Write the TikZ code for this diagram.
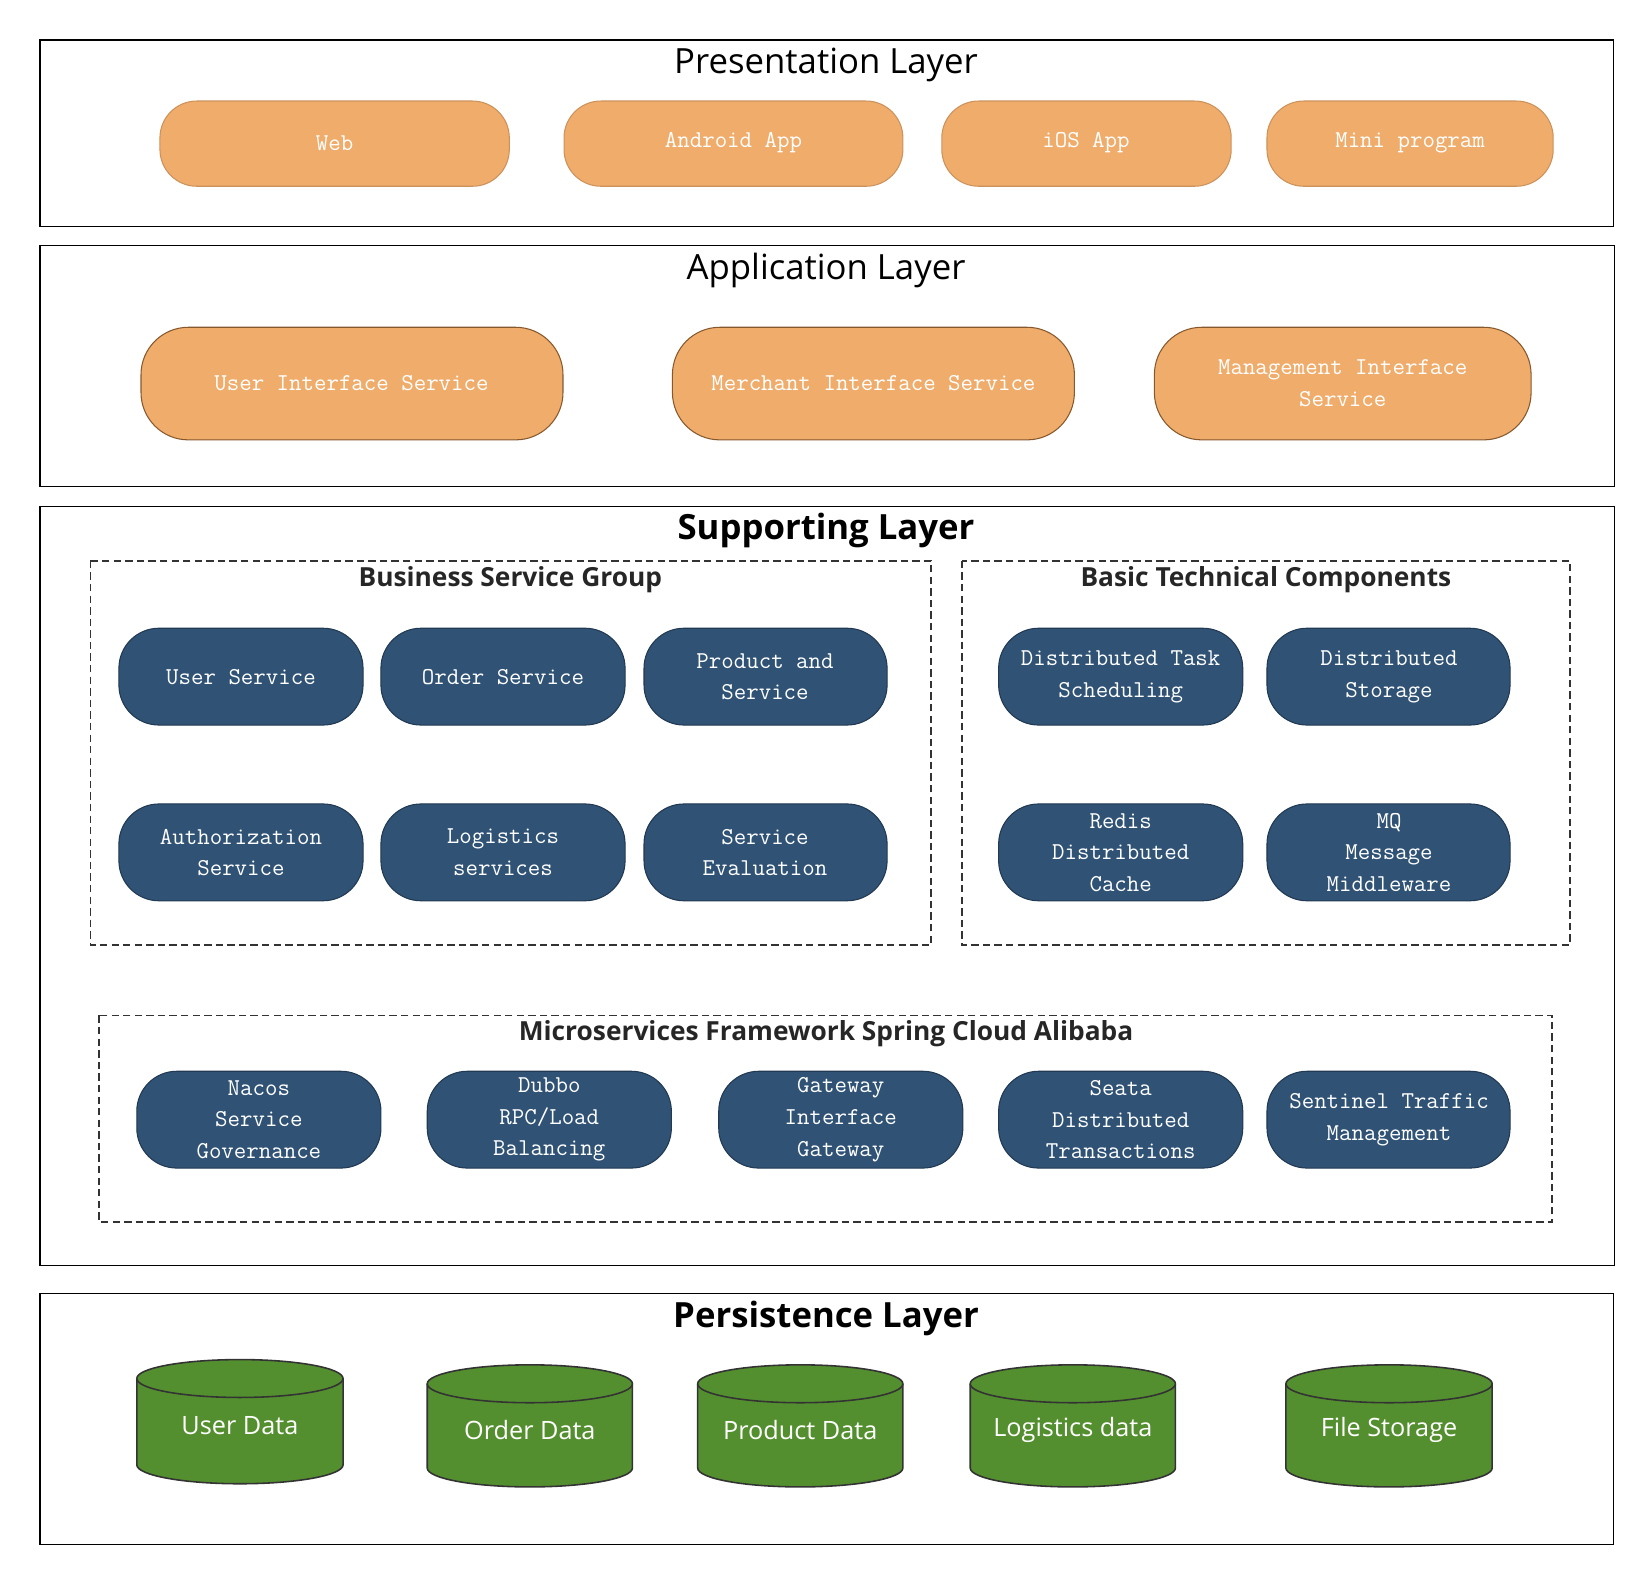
\documentclass[tikz,border=0pt]{standalone}
\usepackage{fontspec}
\setmainfont{Open Sans}
\begin{document}
\begin{tikzpicture}[x=1pt,y=-1pt,
 layer/.style={draw=black,line width=1pt},
 grp/.style={draw=black!80,line width=1.6pt,dash pattern=on 7pt off 4pt},
 ltitle/.style={font=\fontsize{33}{40}\selectfont},
 btitle/.style={font=\bfseries\fontsize{33}{40}\selectfont},
 gtitle/.style={font=\bfseries\fontsize{25}{30}\selectfont,text=black!85},
 ptext/.style={text=white,font=\ttfamily\fontsize{23}{30}\selectfont,align=center},
 ctext/.style={text=white,font=\fontsize{24}{30}\selectfont}]
\definecolor{po}{HTML}{F0AC6B}
\definecolor{pb}{HTML}{2F5275}
\definecolor{pg}{HTML}{548F2F}
\tikzset{orange/.style={fill=po,draw=po!85!black,rounded corners=35pt,line width=1pt},
 app/.style={fill=po,draw=brown!70!black,rounded corners=45pt,line width=1pt},
 blue/.style={fill=pb,draw=pb!70!black,rounded corners=38pt,line width=1pt},
 cyl/.style={draw=black!80,fill=pg,line width=1.5pt}}
\useasboundingbox (0,0) rectangle (1568,1502);
% Presentation
\draw[layer] (38,38) rectangle (1533,215);
\node[ltitle] (t1) at (785,62) {Presentation Layer};
\draw[orange] (152,96) rectangle (484,177); \node[ptext] (web) at (318,136) {Web};
\draw[orange] (536,96) rectangle (858,177); \node[ptext] (and) at (697,136) {Android App};
\draw[orange] (895,96) rectangle (1170,177); \node[ptext] (ios) at (1032,136) {iOS App};
\draw[orange] (1204,96) rectangle (1476,177); \node[ptext] (mini) at (1340,136) {Mini program};
% Application
\draw[layer] (38,233) rectangle (1534,462);
\node[ltitle] (t2) at (785,257) {Application Layer};
\draw[app] (134,311) rectangle (535,418); \node[ptext] (uis) at (334,364) {User Interface Service};
\draw[app] (639,311) rectangle (1021,418); \node[ptext] (mis) at (830,364) {Merchant Interface Service};
\draw[app] (1097,311) rectangle (1455,418); \node[ptext] (mgs) at (1276,364) {Management Interface\\Service};
% Supporting
\draw[layer] (38,481) rectangle (1534,1203);
\node[btitle] (t3) at (785,504) {Supporting Layer};
\draw[grp] (86,533) rectangle (885,898);
\node[gtitle] (g1) at (485,551) {Business Service Group};
\draw[grp] (914,533) rectangle (1492,898);
\node[gtitle] (g2) at (1203,551) {Basic Technical Components};
\draw[grp] (94,965) rectangle (1475,1161);
\node[gtitle] (g3) at (785,982) {Microservices Framework Spring Cloud Alibaba};
\draw[blue] (113,597) rectangle (345,689); \node[ptext] (b1) at (229,643) {User Service};
\draw[blue] (362,597) rectangle (594,689); \node[ptext] (b2) at (478,643) {Order Service};
\draw[blue] (612,597) rectangle (843,689); \node[ptext] (b3) at (727,643) {Product and\\Service};
\draw[blue] (113,764) rectangle (345,856); \node[ptext] (b4) at (229,810) {Authorization\\Service};
\draw[blue] (362,764) rectangle (594,856); \node[ptext] (b5) at (478,810) {Logistics\\services};
\draw[blue] (612,764) rectangle (843,856); \node[ptext] (b6) at (727,810) {Service\\Evaluation};
\draw[blue] (949,597) rectangle (1181,689); \node[ptext] (c1) at (1065,643) {Distributed Task\\Scheduling};
\draw[blue] (1204,597) rectangle (1435,689); \node[ptext] (c2) at (1320,643) {Distributed\\Storage};
\draw[blue] (949,764) rectangle (1181,856); \node[ptext] (c3) at (1065,810) {Redis\\Distributed\\Cache};
\draw[blue] (1204,764) rectangle (1435,856); \node[ptext] (c4) at (1320,810) {MQ\\Message\\Middleware};
\draw[blue] (130,1018) rectangle (362,1110); \node[ptext] (m1) at (246,1064) {Nacos\\Service\\Governance};
\draw[blue] (406,1018) rectangle (638,1110); \node[ptext] (m2) at (522,1064) {Dubbo\\RPC/Load\\Balancing};
\draw[blue] (683,1018) rectangle (915,1110); \node[ptext] (m3) at (799,1064) {Gateway\\Interface\\Gateway};
\draw[blue] (949,1018) rectangle (1181,1110); \node[ptext] (m4) at (1065,1064) {Seata\\Distributed\\Transactions};
\draw[blue] (1204,1018) rectangle (1435,1110); \node[ptext] (m5) at (1320,1064) {Sentinel Traffic\\Management};
% Persistence
\draw[layer] (38,1229) rectangle (1533,1468);
\node[btitle] (t4) at (785,1253) {Persistence Layer};
\newcommand\cylnd[6]{%
 \draw[cyl] (#1,#2) -- (#1,#3) arc[start angle=180,end angle=0,x radius={(#4-#1)/2},y radius=18] -- (#4,#2);
 \draw[cyl] ({(#1+#4)/2},#2) ellipse[x radius={(#4-#1)/2},y radius=18];
 \node[ctext] (#5) at ({(#1+#4)/2},{(#2+#3)/2+4}) {#6};}
\cylnd{130}{1310}{1392}{326}{d1}{User Data}
\cylnd{406}{1315}{1395}{601}{d2}{Order Data}
\cylnd{663}{1315}{1395}{858}{d3}{Product Data}
\cylnd{922}{1315}{1395}{1117}{d4}{Logistics data}
\cylnd{1222}{1315}{1395}{1418}{d5}{File Storage}
\end{tikzpicture}
\end{document}
